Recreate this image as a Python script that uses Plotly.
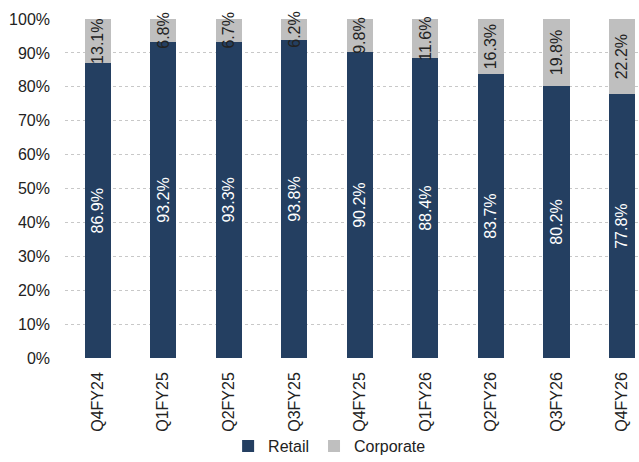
import plotly.graph_objects as go

categories = ["Q4FY24", "Q1FY25", "Q2FY25", "Q3FY25", "Q4FY25", "Q1FY26", "Q2FY26", "Q3FY26", "Q4FY26"]
retail = [86.9, 93.2, 93.3, 93.8, 90.2, 88.4, 83.7, 80.2, 77.8]
corporate = [13.1, 6.8, 6.7, 6.2, 9.8, 11.6, 16.3, 19.8, 22.2]
y_ticks = [0, 10, 20, 30, 40, 50, 60, 70, 80, 90, 100]

FONT = "Liberation Sans, Arial, sans-serif"
NAVY = "#243F61"
GRAY = "#BFBFBF"
FS = 16

fig = go.Figure()
fig.add_trace(go.Bar(
    x=categories, y=[v / 100 for v in retail], name="Retail",
    marker=dict(color=NAVY, line=dict(width=0)),
    text=[f"{v:.1f}%" for v in retail], textposition="inside",
    insidetextanchor="middle", textangle=-90, constraintext="none",
    textfont=dict(color="white", size=FS, family=FONT),
    width=0.4,
))
fig.add_trace(go.Bar(
    x=categories, y=[v / 100 for v in corporate], name="Corporate",
    marker=dict(color=GRAY, line=dict(width=0)),
    text=[f"{v:.1f}%" for v in corporate], textposition="inside",
    insidetextanchor="middle", textangle=-90, constraintext="none",
    textfont=dict(color="#222222", size=FS, family=FONT),
    width=0.4, cliponaxis=False,
))

fig.update_layout(
    barmode="stack",
    width=639, height=462,
    margin=dict(l=65, r=0, t=19, b=104, autoexpand=False),
    plot_bgcolor="white", paper_bgcolor="white",
    font=dict(family=FONT, size=FS, color="#222222"),
    legend=dict(orientation="h", x=0.461, xanchor="center", y=-0.26, yanchor="middle",
                bgcolor="rgba(0,0,0,0)",
                font=dict(size=FS, family=FONT), traceorder="normal"),
    xaxis=dict(type="category", range=[-0.5, 8.26], tickangle=-90,
               showgrid=False, showline=False, ticks="", zeroline=False,
               automargin=False, ticklabelstandoff=10,
               tickfont=dict(size=FS, family=FONT)),
    yaxis=dict(range=[0, 1], tickvals=[t / 100 for t in y_ticks],
               ticktext=[f"{t}%" for t in y_ticks],
               showgrid=True, gridcolor="#C8C8C8", griddash="3px,3px", gridwidth=1,
               zeroline=False, showline=False, ticks="", automargin=False,
               ticklabelstandoff=14,
               tickfont=dict(size=FS, family=FONT)),
)

fig.write_html("out.html", config={"displayModeBar": False},
               post_script="document.body.style.margin='0';")
